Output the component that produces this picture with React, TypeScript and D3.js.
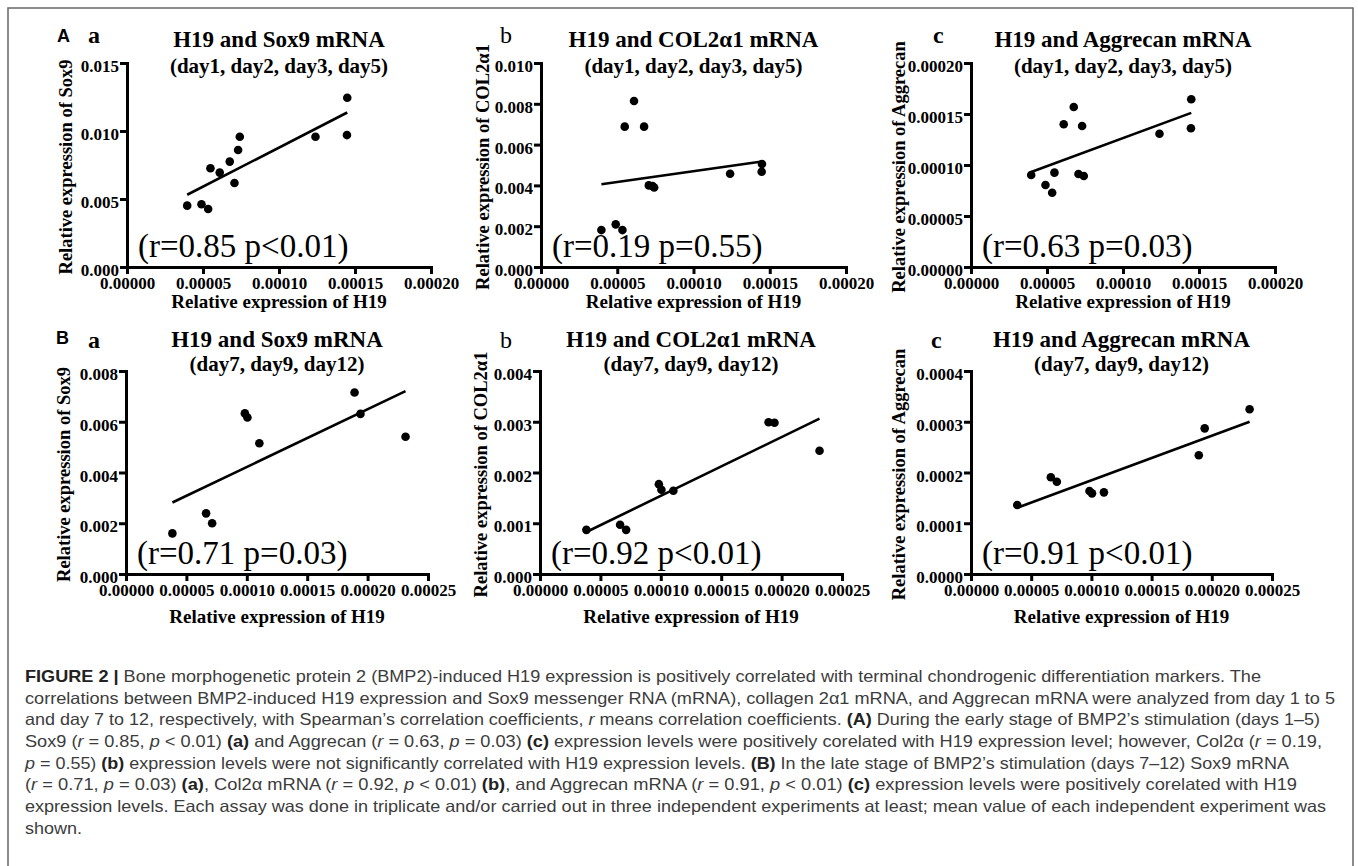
import React, { useEffect, useRef } from 'react'
import * as d3 from 'd3'

// H19 relative expression (shared x values in each row)
const h19Early = [3.96e-5, 4.9e-5, 5.34e-5, 5.49e-5, 6.1e-5, 6.76e-5, 7.07e-5, 7.31e-5, 7.42e-5, 12.4e-5, 14.49e-5, 14.47e-5]
const h19Late = [3.84e-5, 6.63e-5, 7.13e-5, 9.84e-5, 10.05e-5, 11.04e-5, 18.92e-5, 19.41e-5, 23.14e-5]

// markers, days 1-5
const sox9Early = [0.00451, 0.00461, 0.00426, 0.00726, 0.00694, 0.00775, 0.00618, 0.0086, 0.00958, 0.00958, 0.01245, 0.0097]
const col2Early = [0.00181, 0.00209, 0.00181, 0.00688, 0.00814, 0.00688, 0.004, 0.00397, 0.0039, 0.00457, 0.00505, 0.00467]
const aggEarly = [9.02e-5, 8.04e-5, 7.28e-5, 9.25e-5, 13.99e-5, 15.69e-5, 9.12e-5, 13.82e-5, 8.92e-5, 13.07e-5, 16.44e-5, 13.6e-5]

// markers, days 7-12
const sox9Late = [0.0016, 0.00239, 0.002, 0.00633, 0.00617, 0.00515, 0.00715, 0.00631, 0.00541]
const col2Late = [0.00087, 0.00097, 0.00087, 0.00177, 0.00166, 0.00164, 0.00299, 0.00298, 0.00243]
const aggLate = [13.6e-5, 19.05e-5, 18.19e-5, 16.35e-5, 15.89e-5, 16.09e-5, 23.39e-5, 28.7e-5, 32.45e-5]

const xTicksEarly = [0, 0.00005, 0.0001, 0.00015, 0.0002]
const xTicksLate = [0, 0.00005, 0.0001, 0.00015, 0.0002, 0.00025]
const ySox9EarlyTicks = [0, 0.005, 0.01, 0.015]
const yCol2EarlyTicks = [0, 0.002, 0.004, 0.006, 0.008, 0.01]
const yAggEarlyTicks = [0, 0.00005, 0.0001, 0.00015, 0.0002]
const ySox9LateTicks = [0, 0.002, 0.004, 0.006, 0.008]
const yCol2LateTicks = [0, 0.001, 0.002, 0.003, 0.004]
const yAggLateTicks = [0, 0.0001, 0.0002, 0.0003, 0.0004]

const titles = ['H19 and Sox9 mRNA', 'H19 and COL2α1 mRNA', 'H19 and Aggrecan mRNA']
const subtitles = ['(day1, day2, day3, day5)', '(day7, day9, day12)']
const yTitles = ['Relative expression of Sox9', 'Relative expression of COL2α1', 'Relative expression of Aggrecan']
const statsEarly = ['(r=0.85 p<0.01)', '(r=0.19 p=0.55)', '(r=0.63 p=0.03)']
const statsLate = ['(r=0.71 p=0.03)', '(r=0.92 p<0.01)', '(r=0.91 p<0.01)']

const rowA = { top: 63, bottom: 267, titleY: 47, subY: 73, letterY: 43, xTitleY: 308, rY: 257 }
const rowB = { top: 371, bottom: 574, titleY: 347, subY: 371, letterY: 348, xTitleY: 623, rY: 564 }

const panels = [
  { row: rowA, x0: 127, x1: 431, yTitleX: 66, letterX: 88, xs: h19Early, ys: sox9Early, xTicks: xTicksEarly, yTicks: ySox9EarlyTicks, yFmt: '.3f', k: 0, sub: 0, stat: statsEarly[0] },
  { row: rowA, x0: 541, x1: 846, yTitleX: 483, letterX: 500, xs: h19Early, ys: col2Early, xTicks: xTicksEarly, yTicks: yCol2EarlyTicks, yFmt: '.3f', k: 1, sub: 0, stat: statsEarly[1] },
  { row: rowA, x0: 971, x1: 1275, yTitleX: 899, letterX: 933, xs: h19Early, ys: aggEarly, xTicks: xTicksEarly, yTicks: yAggEarlyTicks, yFmt: '.5f', k: 2, sub: 0, stat: statsEarly[2] },
  { row: rowB, x0: 126, x1: 428, yTitleX: 64, letterX: 88, xs: h19Late, ys: sox9Late, xTicks: xTicksLate, yTicks: ySox9LateTicks, yFmt: '.3f', k: 0, sub: 1, stat: statsLate[0] },
  { row: rowB, x0: 540, x1: 842, yTitleX: 481, letterX: 500, xs: h19Late, ys: col2Late, xTicks: xTicksLate, yTicks: yCol2LateTicks, yFmt: '.3f', k: 1, sub: 1, stat: statsLate[1] },
  { row: rowB, x0: 971, x1: 1272, yTitleX: 899, letterX: 931, xs: h19Late, ys: aggLate, xTicks: xTicksLate, yTicks: yAggLateTicks, yFmt: '.4f', k: 2, sub: 1, stat: statsLate[2] },
]

// caption, one entry per line: [text, style]
const captionLines: [string, string][][] = [
  [['FIGURE 2 | ', 'b'], ['Bone morphogenetic protein 2 (BMP2)-induced H19 expression is positively correlated with terminal chondrogenic differentiation markers. The', '']],
  [['correlations between BMP2-induced H19 expression and Sox9 messenger RNA (mRNA), collagen 2α1 mRNA, and Aggrecan mRNA were analyzed from day 1 to 5', '']],
  [['and day 7 to 12, respectively, with Spearman’s correlation coefficients, ', ''], ['r', 'i'], [' means correlation coefficients. ', ''], ['(A)', 'b'], [' During the early stage of BMP2’s stimulation (days 1–5)', '']],
  [['Sox9 (', ''], ['r', 'i'], [' = 0.85, ', ''], ['p', 'i'], [' < 0.01) ', ''], ['(a)', 'b'], [' and Aggrecan (', ''], ['r', 'i'], [' = 0.63, ', ''], ['p', 'i'], [' = 0.03) ', ''], ['(c)', 'b'], [' expression levels were positively corelated with H19 expression level; however, Col2α (', ''], ['r', 'i'], [' = 0.19,', '']],
  [['p', 'i'], [' = 0.55) ', ''], ['(b)', 'b'], [' expression levels were not significantly correlated with H19 expression levels. ', ''], ['(B)', 'b'], [' In the late stage of BMP2’s stimulation (days 7–12) Sox9 mRNA', '']],
  [['(', ''], ['r', 'i'], [' = 0.71, ', ''], ['p', 'i'], [' = 0.03) ', ''], ['(a)', 'b'], [', Col2α mRNA (', ''], ['r', 'i'], [' = 0.92, ', ''], ['p', 'i'], [' < 0.01) ', ''], ['(b)', 'b'], [', and Aggrecan mRNA (', ''], ['r', 'i'], [' = 0.91, ', ''], ['p', 'i'], [' < 0.01) ', ''], ['(c)', 'b'], [' expression levels were positively corelated with H19', '']],
  [['expression levels. Each assay was done in triplicate and/or carried out in three independent experiments at least; mean value of each independent experiment was', '']],
  [['shown.', '']],
]
const captionEnds = [1261, 1335, 1320, 1322, 1289, 1297, 1326, 82]

const serif = '"Liberation Serif", "Times New Roman", serif'

function fit(xs: number[], ys: number[]) {
  const mx = d3.mean(xs) as number
  const my = d3.mean(ys) as number
  const sxy = d3.sum(xs, (x, i) => (x - mx) * (ys[i] - my))
  const sxx = d3.sum(xs, x => (x - mx) ** 2)
  const b = sxy / sxx
  return (x: number) => my + b * (x - mx)
}

const App = () => {
  const ref = useRef<SVGGElement>(null)

  useEffect(() => {
    const root = d3.select(ref.current)
    root.selectAll('*').remove()

    panels.forEach(p => {
      const g = root.append('g')
      const x = d3.scaleLinear().domain([p.xTicks[0], p.xTicks[p.xTicks.length - 1]]).range([p.x0, p.x1])
      const y = d3.scaleLinear().domain([p.yTicks[0], p.yTicks[p.yTicks.length - 1]]).range([p.row.bottom, p.row.top])

      const xAxis = g.append('g').attr('transform', `translate(0,${p.row.bottom})`)
        .call(d3.axisBottom(x).tickValues(p.xTicks).tickFormat(d3.format('.5f')).tickSize(7).tickSizeOuter(0).tickPadding(3))
      const yAxis = g.append('g').attr('transform', `translate(${p.x0},0)`)
        .call(d3.axisLeft(y).tickValues(p.yTicks).tickFormat(d3.format(p.yFmt)).tickSize(7).tickSizeOuter(0).tickPadding(1))

      ;[xAxis, yAxis].forEach(a => {
        a.select('.domain').attr('stroke', '#000').attr('stroke-width', 3).attr('stroke-linecap', 'square')
        a.selectAll('.tick line').attr('stroke', '#000').attr('stroke-width', 3)
        a.selectAll('.tick text').attr('fill', '#000').attr('font-family', serif).attr('font-weight', 'bold').attr('font-size', 17)
      })
      yAxis.selectAll('.tick text').attr('dy', '0.5em')

      const f = fit(p.xs, p.ys)
      const [xa, xb] = d3.extent(p.xs) as [number, number]
      g.append('path')
        .attr('d', d3.line<number>().x(v => x(v)).y(v => y(f(v)))([xa, xb]))
        .attr('stroke', '#000').attr('stroke-width', 2.6).attr('fill', 'none')

      g.selectAll('circle').data(p.xs).join('circle')
        .attr('cx', d => x(d)).attr('cy', (d, i) => y(p.ys[i])).attr('r', 4.3).attr('fill', '#000')

      const cx = (p.x0 + p.x1) / 2
      g.append('text').attr('x', cx).attr('y', p.row.titleY).attr('text-anchor', 'middle')
        .attr('font-family', serif).attr('font-weight', 'bold').attr('font-size', 23).text(titles[p.k])
      g.append('text').attr('x', cx).attr('y', p.row.subY).attr('text-anchor', 'middle')
        .attr('font-family', serif).attr('font-weight', 'bold').attr('font-size', 21).text(subtitles[p.sub])
      g.append('text').attr('x', cx).attr('y', p.row.xTitleY).attr('text-anchor', 'middle')
        .attr('font-family', serif).attr('font-weight', 'bold').attr('font-size', 19).text('Relative expression of H19')
      g.append('text')
        .attr('transform', `translate(${p.yTitleX},${(p.row.top + p.row.bottom) / 2 + 2}) rotate(-90)`)
        .attr('dy', '0.35em').attr('text-anchor', 'middle')
        .attr('font-family', serif).attr('font-weight', 'bold').attr('font-size', 18.5).text(yTitles[p.k])
      g.append('text').attr('x', p.x0 + 11).attr('y', p.row.rY)
        .attr('font-family', serif).attr('font-size', 33).text(p.stat)
      g.append('text').attr('x', p.letterX).attr('y', p.row.letterY)
        .attr('font-family', serif).attr('font-weight', p.k === 1 ? 'normal' : 'bold').attr('font-size', 24)
        .text(['a', 'b', 'c'][p.k])
    })
  }, [])

  return (
    <svg width={1358} height={866} style={{ position: 'absolute', left: 0, top: 0, background: '#fff' }}>
      <path d="M8,866 V8 H1353 V866" fill="none" stroke="#666" strokeWidth={1.5} />
      <text x={57} y={42} fontFamily='"Liberation Sans", Arial, sans-serif' fontWeight="bold" fontSize={18}>A</text>
      <text x={56} y={344} fontFamily='"Liberation Sans", Arial, sans-serif' fontWeight="bold" fontSize={18}>B</text>
      <g ref={ref} />
      <g fontFamily='"Liberation Sans", Arial, sans-serif' fontSize={16.5} fill="#3c3c3c">
        {captionLines.map((line, i) => (
          <text key={i} x={25} y={682 + i * 21.65} textLength={captionEnds[i] - 25} lengthAdjust="spacingAndGlyphs">
            {line.map(([t, s], j) => (
              <tspan key={j} fontWeight={s === 'b' ? 'bold' : 'normal'} fontStyle={s === 'i' ? 'italic' : 'normal'} fill={s === 'b' ? '#222' : undefined}>{t}</tspan>
            ))}
          </text>
        ))}
      </g>
    </svg>
  )
}

export default App
